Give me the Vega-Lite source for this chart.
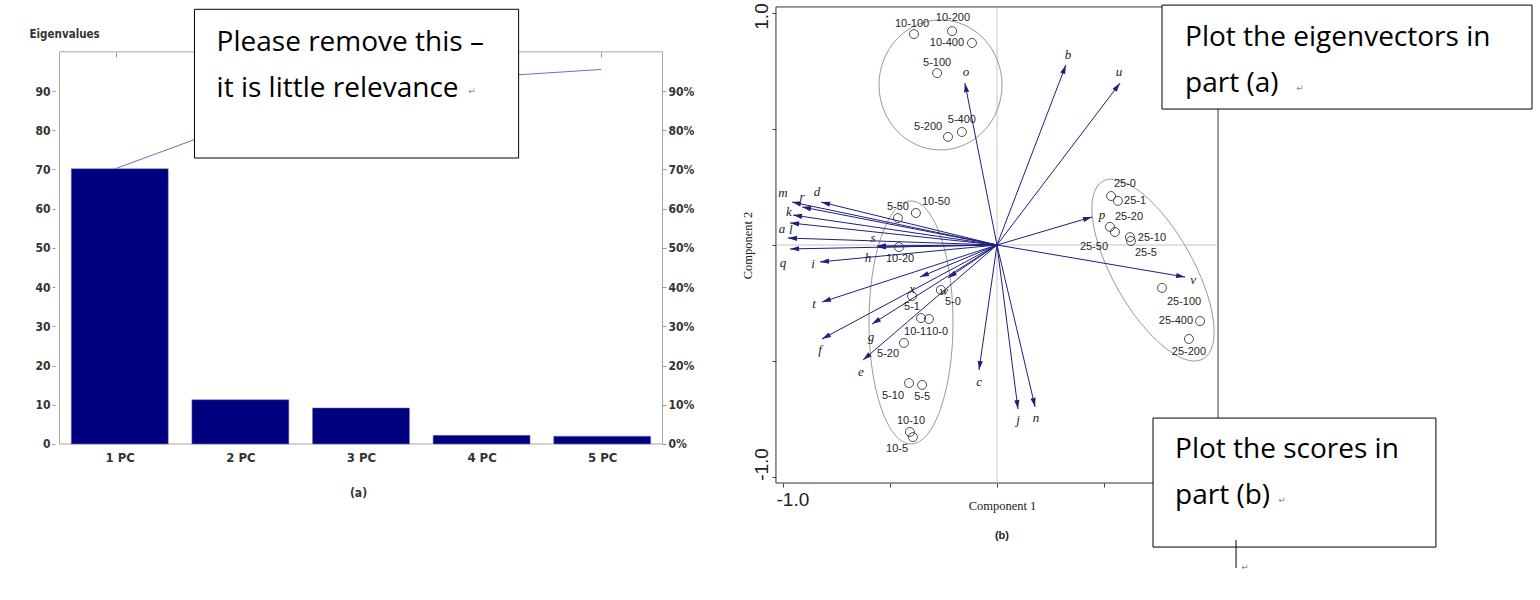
{
  "$schema": "https://vega.github.io/schema/vega-lite/v6.json",
  "width": 1540,
  "height": 600,
  "autosize": {"type": "fit", "contains": "padding"},
  "padding": 0,
  "background": "white",
  "config": {
    "view": {"stroke": null},
    "axis": {"grid": false, "domain": false, "labelOverlap": false, "labelFlush": false}
  },
  "datasets": {
    "pcs": [
      {"pc": 1, "eig": 70.2, "cum": 70.2},
      {"pc": 2, "eig": 11.3, "cum": 81.6},
      {"pc": 3, "eig": 9.2, "cum": 90.9},
      {"pc": 4, "eig": 2.2, "cum": 93.5},
      {"pc": 5, "eig": 2.0, "cum": 95.5}
    ],
    "vectors": [
      {"v": "a", "x": -0.967, "y": 0.095, "lx": -1.005, "ly": 0.069},
      {"v": "b", "x": 0.322, "y": 0.776, "lx": 0.332, "ly": 0.819},
      {"v": "c", "x": -0.084, "y": -0.539, "lx": -0.084, "ly": -0.591},
      {"v": "d", "x": -0.822, "y": 0.185, "lx": -0.841, "ly": 0.228},
      {"v": "e", "x": -0.626, "y": -0.496, "lx": -0.636, "ly": -0.547},
      {"v": "f", "x": -0.818, "y": -0.405, "lx": -0.827, "ly": -0.453},
      {"v": "g", "x": -0.584, "y": -0.341, "lx": -0.589, "ly": -0.397},
      {"v": "h", "x": -0.561, "y": -0.009, "lx": -0.603, "ly": -0.056},
      {"v": "i", "x": -0.827, "y": -0.073, "lx": -0.86, "ly": -0.082},
      {"v": "j", "x": 0.098, "y": -0.707, "lx": 0.098, "ly": -0.754},
      {"v": "k", "x": -0.953, "y": 0.129, "lx": -0.972, "ly": 0.142},
      {"v": "l", "x": -0.977, "y": 0.03, "lx": -0.963, "ly": 0.065},
      {"v": "m", "x": -0.958, "y": 0.185, "lx": -1.0, "ly": 0.224},
      {"v": "n", "x": 0.178, "y": -0.698, "lx": 0.182, "ly": -0.746},
      {"v": "o", "x": -0.15, "y": 0.698, "lx": -0.145, "ly": 0.746},
      {"v": "p", "x": 0.444, "y": 0.121, "lx": 0.491, "ly": 0.129},
      {"v": "q", "x": -0.967, "y": -0.017, "lx": -1.0, "ly": -0.078},
      {"v": "r", "x": -0.911, "y": 0.164, "lx": -0.911, "ly": 0.207},
      {"v": "s", "x": -0.561, "y": -0.004, "lx": -0.579, "ly": 0.03},
      {"v": "t", "x": -0.818, "y": -0.246, "lx": -0.855, "ly": -0.254},
      {"v": "u", "x": 0.575, "y": 0.698, "lx": 0.57, "ly": 0.746},
      {"v": "v", "x": 0.879, "y": -0.138, "lx": 0.916, "ly": -0.151},
      {"v": "w", "x": -0.229, "y": -0.142, "lx": -0.248, "ly": -0.198},
      {"v": "x", "x": -0.36, "y": -0.138, "lx": -0.397, "ly": -0.19}
    ],
    "scores": [
      {"s": "10-100", "x": -0.388, "y": 0.909, "lx": -0.397, "ly": 0.953},
      {"s": "10-200", "x": -0.21, "y": 0.922, "lx": -0.206, "ly": 0.978},
      {"s": "10-400", "x": -0.117, "y": 0.871, "lx": -0.234, "ly": 0.871},
      {"s": "5-100", "x": -0.28, "y": 0.741, "lx": -0.28, "ly": 0.784},
      {"s": "5-200", "x": -0.229, "y": 0.466, "lx": -0.322, "ly": 0.509},
      {"s": "5-400", "x": -0.164, "y": 0.487, "lx": -0.164, "ly": 0.539},
      {"s": "25-0", "x": 0.533, "y": 0.211, "lx": 0.598, "ly": 0.263},
      {"s": "25-1", "x": 0.565, "y": 0.19, "lx": 0.645, "ly": 0.19},
      {"s": "25-20", "x": 0.528, "y": 0.078, "lx": 0.617, "ly": 0.121},
      {"s": "25-50", "x": 0.551, "y": 0.056, "lx": 0.453, "ly": -0.009},
      {"s": "25-10", "x": 0.621, "y": 0.034, "lx": 0.724, "ly": 0.03},
      {"s": "25-5", "x": 0.626, "y": 0.017, "lx": 0.696, "ly": -0.034},
      {"s": "25-100", "x": 0.771, "y": -0.185, "lx": 0.874, "ly": -0.246},
      {"s": "25-400", "x": 0.949, "y": -0.328, "lx": 0.836, "ly": -0.328},
      {"s": "25-200", "x": 0.897, "y": -0.405, "lx": 0.897, "ly": -0.461},
      {"s": "5-50", "x": -0.463, "y": 0.116, "lx": -0.463, "ly": 0.164},
      {"s": "10-50", "x": -0.379, "y": 0.138, "lx": -0.285, "ly": 0.185},
      {"s": "10-20", "x": -0.458, "y": -0.009, "lx": -0.453, "ly": -0.06},
      {"s": "5-1", "x": -0.397, "y": -0.22, "lx": -0.397, "ly": -0.267},
      {"s": "5-0", "x": -0.262, "y": -0.194, "lx": -0.206, "ly": -0.246},
      {"s": "10-1", "x": -0.355, "y": -0.315, "lx": -0.383, "ly": -0.375},
      {"s": "10-0", "x": -0.318, "y": -0.319, "lx": -0.28, "ly": -0.375},
      {"s": "5-20", "x": -0.435, "y": -0.422, "lx": -0.509, "ly": -0.47},
      {"s": "5-10", "x": -0.411, "y": -0.595, "lx": -0.486, "ly": -0.651},
      {"s": "5-5", "x": -0.35, "y": -0.603, "lx": -0.35, "ly": -0.655},
      {"s": "10-10", "x": -0.407, "y": -0.806, "lx": -0.402, "ly": -0.759},
      {"s": "10-5", "x": -0.393, "y": -0.828, "lx": -0.467, "ly": -0.879}
    ],
    "ellipses": [
      {"cluster": "A", "x": -0.264, "y": 0.69},
      {"cluster": "B", "x": -0.402, "y": -0.334},
      {"cluster": "C", "x": 0.729, "y": -0.108}
    ]
  },
  "layer": [
    {
      "data": {"name": "pcs"},
      "mark": {"type": "line", "color": "#6b6bd9", "strokeWidth": 1},
      "encoding": {
        "x": {
          "field": "pc", "type": "quantitative",
          "scale": {"domain": [0.0486, 12.7339], "nice": false, "zero": false},
          "axis": {"orient": "top", "offset": -52, "values": [1, 5], "labels": false, "tickSize": -5, "tickColor": "#999999", "title": null}
        },
        "y": {
          "field": "cum", "type": "quantitative",
          "scale": {"domain": [-39.78, 113.21], "nice": false, "zero": false},
          "axis": {
            "orient": "right", "offset": -878, "values": [0, 10, 20, 30, 40, 50, 60, 70, 80, 90],
            "labelExpr": "datum.value + '%'", "tickSize": 4, "tickColor": "#999999", "labelPadding": 2,
            "labelFont": "Liberation Sans Narrow, DejaVu Sans Condensed, sans-serif", "labelFontWeight": "bold",
            "labelFontSize": 12, "labelColor": "#333333", "title": null
          }
        }
      }
    },
    {
      "layer": [
        {
          "data": {"values": [{}]},
          "mark": {"type": "rect", "filled": false, "stroke": "#a6a6a6", "strokeWidth": 1},
          "encoding": {
            "x": {"datum": 0.5, "type": "quantitative", "scale": {"domain": [0.0486, 12.7339], "nice": false, "zero": false}},
            "x2": {"datum": 5.5},
            "y": {"datum": 0, "type": "quantitative", "scale": {"domain": [-39.78, 113.21], "nice": false, "zero": false}},
            "y2": {"datum": 100}
          }
        },
        {
          "data": {"name": "pcs"},
          "mark": {"type": "bar", "width": 97, "color": "#00007e", "stroke": "#7f7fbf", "strokeWidth": 0.5},
          "encoding": {
            "x": {
              "field": "pc", "type": "quantitative",
              "scale": {"domain": [0.0486, 12.7339], "nice": false, "zero": false},
              "axis": {
                "orient": "bottom", "offset": -156, "values": [1, 2, 3, 4, 5],
                "labelExpr": "datum.value + ' PC'", "ticks": false, "labelPadding": 7,
                "labelFont": "Liberation Sans Narrow, DejaVu Sans Condensed, sans-serif", "labelFontSize": 13,
                "labelFontWeight": "bold", "labelColor": "#333333",
                "title": "(a)", "titleFont": "Liberation Sans Narrow, DejaVu Sans Condensed, sans-serif",
                "titleFontSize": 12, "titleFontWeight": "bold", "titleColor": "#333333",
                "titleX": 358, "titleY": 48, "titleBaseline": "middle", "titleAlign": "center"
              }
            },
            "y": {
              "field": "eig", "type": "quantitative",
              "scale": {"domain": [-39.78, 113.21], "nice": false, "zero": false},
              "axis": {
                "orient": "left", "offset": -55, "values": [0, 10, 20, 30, 40, 50, 60, 70, 80, 90],
                "tickSize": 3, "tickColor": "#999999", "labelPadding": 2,
                "labelFont": "Liberation Sans Narrow, DejaVu Sans Condensed, sans-serif", "labelFontSize": 12,
                "labelFontWeight": "bold", "labelColor": "#333333",
                "title": "Eigenvalues", "titleAngle": 0, "titleX": -26, "titleY": 34,
                "titleAlign": "left", "titleBaseline": "middle",
                "titleFont": "Liberation Sans Narrow, DejaVu Sans Condensed, sans-serif",
                "titleFontSize": 11.5, "titleFontWeight": "bold", "titleColor": "#333333"
              }
            },
            "y2": {"datum": 0}
          }
        },
        {
          "data": {"values": [{}]},
          "mark": {"type": "rect", "fill": "white", "stroke": "black", "strokeWidth": 1},
          "encoding": {
            "x": {"datum": 1.6195, "type": "quantitative"},
            "x2": {"datum": 4.307},
            "y": {"datum": 110.84, "type": "quantitative"},
            "y2": {"datum": 72.92}
          }
        },
        {
          "data": {"values": [{}]},
          "mark": {"type": "text", "align": "left", "baseline": "alphabetic", "lineHeight": 46, "font": "Open Sans, Lato, sans-serif", "fontSize": 28, "color": "black"},
          "encoding": {
            "x": {"datum": 1.803, "type": "quantitative"},
            "y": {"datum": 100.2, "type": "quantitative"},
            "text": {"value": ["Please remove this –", "it is little relevance"]}
          }
        },
        {
          "data": {"values": [{}]},
          "mark": {"type": "text", "align": "center", "baseline": "middle", "font": "DejaVu Sans, sans-serif", "fontSize": 9, "color": "#8a8a8a"},
          "encoding": {
            "x": {"datum": 3.92, "type": "quantitative"},
            "y": {"datum": 90.1, "type": "quantitative"},
            "text": {"value": "↵"}
          }
        }
      ]
    },
    {
      "layer": [
        {
          "data": {"values": [{}]},
          "mark": {"type": "rect", "filled": false, "stroke": "#333333", "strokeWidth": 1},
          "encoding": {
            "x": {"datum": -1.033, "type": "quantitative", "scale": {"domain": [-4.6589, 2.5374], "nice": false, "zero": false}},
            "x2": {"datum": 1.033},
            "y": {"datum": -1.026, "type": "quantitative", "scale": {"domain": [-1.5302, 1.056], "nice": false, "zero": false}},
            "y2": {"datum": 1.026}
          }
        },
        {
          "data": {"values": [{}]},
          "mark": {"type": "rule", "color": "#c4c4c4", "strokeWidth": 1},
          "encoding": {
            "x": {"datum": 0, "type": "quantitative"},
            "y": {"datum": -1.026, "type": "quantitative"},
            "y2": {"datum": 1.026}
          }
        },
        {
          "data": {"values": [{}]},
          "mark": {"type": "rule", "color": "#c4c4c4", "strokeWidth": 1},
          "encoding": {
            "y": {"datum": 0, "type": "quantitative"},
            "x": {"datum": -1.033, "type": "quantitative"},
            "x2": {"datum": 1.033}
          }
        },
        {
          "data": {"name": "ellipses"},
          "mark": {"type": "point", "filled": false, "size": 4, "stroke": "#8c8c8c", "strokeWidth": 0.9, "opacity": 1},
          "encoding": {
            "x": {"field": "x", "type": "quantitative"},
            "y": {"field": "y", "type": "quantitative"},
            "shape": {
              "field": "cluster", "type": "nominal", "legend": null,
              "scale": {
                "domain": ["A", "B", "C"],
                "range": [
                  "M-61.5,0C-61.5,-35.9,-33.97,-65,0,-65C33.97,-65,61.5,-35.9,61.5,0C61.5,35.9,33.97,65,0,65C-33.97,65,-61.5,35.9,-61.5,0Z",
                  "M-42,0C-42,-67.1,-23.2,-121.5,0,-121.5C23.2,-121.5,42,-67.1,42,0C42,67.1,23.2,121.5,0,121.5C-23.2,121.5,-42,67.1,-42,0Z",
                  "M-34.82,19.7C-62.56,-29.33,-69.45,-77.9,-50.22,-88.78C-30.99,-99.66,7.08,-68.73,34.82,-19.7C62.56,29.33,69.45,77.9,50.22,88.78C30.99,99.66,-7.08,68.73,-34.82,19.7Z"
                ]
              }
            }
          }
        },
        {
          "data": {"name": "vectors"},
          "mark": {"type": "rule", "color": "#1f1f7f", "strokeWidth": 1},
          "encoding": {
            "x": {"field": "x", "type": "quantitative"},
            "y": {"field": "y", "type": "quantitative"},
            "x2": {"datum": 0},
            "y2": {"datum": 0}
          }
        },
        {
          "data": {"name": "vectors"},
          "mark": {
            "type": "point", "filled": true, "size": 4, "color": "#1f1f7f", "strokeWidth": 0, "opacity": 1,
            "shape": "M0,0L2.6,9L-2.6,9Z",
            "angle": {"expr": "90 - atan2(datum.y * 232, datum.x * 214) * 180 / PI"}
          },
          "encoding": {
            "x": {"field": "x", "type": "quantitative"},
            "y": {"field": "y", "type": "quantitative"}
          }
        },
        {
          "data": {"name": "vectors"},
          "mark": {"type": "text", "align": "center", "baseline": "middle", "font": "Liberation Serif, Times New Roman, serif", "fontStyle": "italic", "fontSize": 13, "color": "#222222"},
          "encoding": {
            "x": {"field": "lx", "type": "quantitative"},
            "y": {"field": "ly", "type": "quantitative"},
            "text": {"field": "v"}
          }
        },
        {
          "data": {"name": "scores"},
          "mark": {"type": "point", "shape": "circle", "filled": false, "size": 81, "stroke": "#3a3a3a", "strokeWidth": 0.9, "opacity": 1},
          "encoding": {
            "x": {
              "field": "x", "type": "quantitative",
              "scale": {"domain": [-4.6589, 2.5374], "nice": false, "zero": false},
              "axis": {
                "orient": "bottom", "offset": -117, "values": [-1, -0.5, 0, 0.5],
                "labelExpr": "datum.value == -1 ? '-1.0' : ''",
                "labelFont": "Liberation Sans, Arial, sans-serif", "labelFontSize": 19, "labelColor": "#222222",
                "labelAlign": "left", "labelOffset": -7, "labelBaseline": "top", "labelPadding": 3,
                "tickSize": 4, "tickColor": "#444444",
                "title": "Component 1", "titleFont": "Liberation Serif, Times New Roman, serif", "titleFontSize": 12.5,
                "titleFontWeight": "normal", "titleColor": "#222222", "titleX": 1002, "titleY": 22,
                "titleBaseline": "middle", "titleAlign": "center"
              }
            },
            "y": {
              "field": "y", "type": "quantitative",
              "scale": {"domain": [-1.5302, 1.056], "nice": false, "zero": false},
              "axis": {
                "orient": "left", "offset": -776, "values": [-1, -0.5, 0, 0.5, 1],
                "labelExpr": "datum.value == 1 ? '1.0' : datum.value == -1 ? '-1.0' : ''",
                "labelAngle": 270, "labelAlign": "center", "labelBaseline": "bottom", "labelPadding": 1,
                "labelOffset": {"condition": {"test": "datum.value < 0", "value": -13}, "value": 3},
                "labelFont": "Liberation Sans, Arial, sans-serif", "labelFontSize": 19, "labelColor": "#222222",
                "tickSize": 4, "tickColor": "#444444",
                "title": "Component 2", "titleFont": "Liberation Serif, Times New Roman, serif", "titleFontSize": 12.5,
                "titleFontWeight": "normal", "titleColor": "#222222", "titleAngle": 270,
                "titleX": -29, "titleY": 245, "titleAlign": "center", "titleBaseline": "middle"
              }
            }
          }
        },
        {
          "data": {"name": "scores"},
          "mark": {"type": "text", "align": "center", "baseline": "middle", "font": "Liberation Sans, Arial, sans-serif", "fontSize": 11, "color": "#262626"},
          "encoding": {
            "x": {"field": "lx", "type": "quantitative"},
            "y": {"field": "ly", "type": "quantitative"},
            "text": {"field": "s"}
          }
        },
        {
          "data": {"values": [{}]},
          "mark": {"type": "text", "align": "center", "baseline": "middle", "font": "Liberation Sans, Arial, sans-serif", "fontSize": 11, "fontWeight": "bold", "color": "#222222"},
          "encoding": {
            "x": {"datum": 0.023, "type": "quantitative"},
            "y": {"datum": -1.254, "type": "quantitative"},
            "text": {"value": "(b)"}
          }
        },
        {
          "data": {"values": [{}]},
          "mark": {"type": "rect", "fill": "white", "stroke": "black", "strokeWidth": 1},
          "encoding": {
            "x": {"datum": 0.771, "type": "quantitative"},
            "x2": {"datum": 2.5},
            "y": {"datum": 1.034, "type": "quantitative"},
            "y2": {"datum": 0.586}
          }
        },
        {
          "data": {"values": [{}]},
          "mark": {"type": "text", "align": "left", "baseline": "alphabetic", "lineHeight": 46, "font": "Open Sans, Lato, sans-serif", "fontSize": 28, "color": "black"},
          "encoding": {
            "x": {"datum": 0.879, "type": "quantitative"},
            "y": {"datum": 0.858, "type": "quantitative"},
            "text": {"value": ["Plot the eigenvectors in", "part (a)"]}
          }
        },
        {
          "data": {"values": [{}]},
          "mark": {"type": "text", "align": "center", "baseline": "middle", "font": "DejaVu Sans, sans-serif", "fontSize": 9, "color": "#8a8a8a"},
          "encoding": {
            "x": {"datum": 1.416, "type": "quantitative"},
            "y": {"datum": 0.677, "type": "quantitative"},
            "text": {"value": "↵"}
          }
        },
        {
          "data": {"values": [{}]},
          "mark": {"type": "rect", "fill": "white", "stroke": "black", "strokeWidth": 1},
          "encoding": {
            "x": {"datum": 0.729, "type": "quantitative"},
            "x2": {"datum": 2.051},
            "y": {"datum": -0.746, "type": "quantitative"},
            "y2": {"datum": -1.302}
          }
        },
        {
          "data": {"values": [{}]},
          "mark": {"type": "text", "align": "left", "baseline": "alphabetic", "lineHeight": 46, "font": "Open Sans, Lato, sans-serif", "fontSize": 28, "color": "black"},
          "encoding": {
            "x": {"datum": 0.832, "type": "quantitative"},
            "y": {"datum": -0.918, "type": "quantitative"},
            "text": {"value": ["Plot the scores in", "part (b)"]}
          }
        },
        {
          "data": {"values": [{}]},
          "mark": {"type": "text", "align": "center", "baseline": "middle", "font": "DejaVu Sans, sans-serif", "fontSize": 9, "color": "#8a8a8a"},
          "encoding": {
            "x": {"datum": 1.332, "type": "quantitative"},
            "y": {"datum": -1.101, "type": "quantitative"},
            "text": {"value": "↵"}
          }
        },
        {
          "data": {"values": [{}]},
          "mark": {"type": "rule", "color": "black", "strokeWidth": 1},
          "encoding": {
            "x": {"datum": 1.117, "type": "quantitative"},
            "y": {"datum": -1.272, "type": "quantitative"},
            "y2": {"datum": -1.392}
          }
        },
        {
          "data": {"values": [{}]},
          "mark": {"type": "text", "align": "center", "baseline": "middle", "font": "DejaVu Sans, sans-serif", "fontSize": 9, "color": "#8a8a8a"},
          "encoding": {
            "x": {"datum": 1.159, "type": "quantitative"},
            "y": {"datum": -1.388, "type": "quantitative"},
            "text": {"value": "↵"}
          }
        }
      ]
    }
  ],
  "resolve": {
    "scale": {"x": "independent", "y": "independent"},
    "axis": {"x": "independent", "y": "independent"}
  }
}
